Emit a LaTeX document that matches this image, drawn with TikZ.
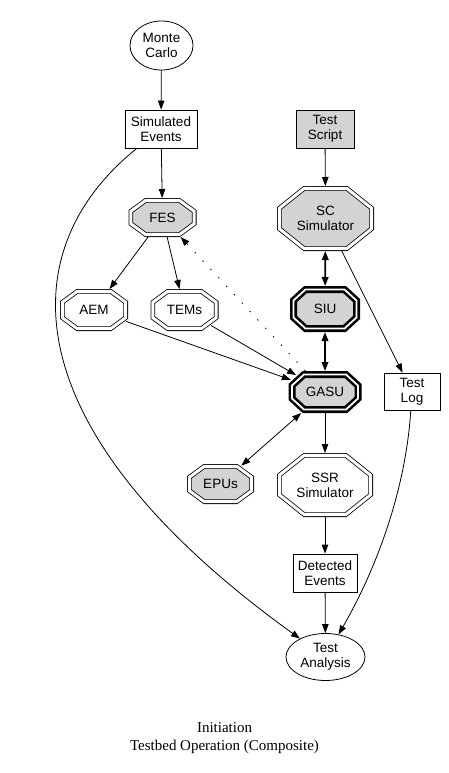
\documentclass[tikz,border=0pt]{standalone}
\usepackage{fontspec}
\setmainfont{Liberation Sans}
\newfontfamily\capfont{Liberation Serif}
\usetikzlibrary{shapes.geometric,arrows.meta}
\definecolor{lg}{HTML}{D3D3D3}
\makeatletter
\pgfkeys{/pgf/octo cx/.initial=10pt, /pgf/octo cy/.initial=8pt}
\pgfdeclareshape{octo}{%
  \savedanchor\northeast{%
    \pgfmathsetlength\pgf@x{\pgfkeysvalueof{/pgf/minimum width}}%
    \pgfmathsetlength\pgf@y{\pgfkeysvalueof{/pgf/minimum height}}%
    \pgf@x=.5\pgf@x \pgf@y=.5\pgf@y
  }%
  \savedanchor\outerne{%
    \pgfmathsetlength\pgf@x{\pgfkeysvalueof{/pgf/minimum width}}%
    \pgfmathsetlength\pgf@y{\pgfkeysvalueof{/pgf/minimum height}}%
    \pgf@x=.5\pgf@x \pgf@y=.5\pgf@y
    \pgfmathsetlength\pgf@xa{\pgfkeysvalueof{/pgf/outer xsep}}%
    \pgfmathsetlength\pgf@ya{\pgfkeysvalueof{/pgf/outer ysep}}%
    \advance\pgf@x by \pgf@xa \advance\pgf@y by \pgf@ya
  }%
  \savedanchor\chamf{%
    \pgfmathsetlength\pgf@x{\pgfkeysvalueof{/pgf/octo cx}}%
    \pgfmathsetlength\pgf@y{\pgfkeysvalueof{/pgf/octo cy}}%
  }%
  \savedanchor\textorig{%
    \pgf@x=-.5\wd\pgfnodeparttextbox
    \pgf@y=-.5\ht\pgfnodeparttextbox
    \advance\pgf@y by .5\dp\pgfnodeparttextbox
  }%
  \anchor{center}{\pgfpointorigin}%
  \anchor{text}{\textorig}%
  \backgroundpath{%
    \northeast \edef\octW{\the\pgf@x}\edef\octH{\the\pgf@y}%
    \chamf \pgf@xa=\octW \advance\pgf@xa by -\pgf@x
    \pgf@ya=\octH \advance\pgf@ya by -\pgf@y
    \edef\octw{\the\pgf@xa}\edef\octh{\the\pgf@ya}%
    \pgfpathmoveto{\pgfqpoint{\octW}{\octh}}%
    \pgfpathlineto{\pgfqpoint{\octw}{\octH}}%
    \pgfpathlineto{\pgfqpoint{-\octw}{\octH}}%
    \pgfpathlineto{\pgfqpoint{-\octW}{\octh}}%
    \pgfpathlineto{\pgfqpoint{-\octW}{-\octh}}%
    \pgfpathlineto{\pgfqpoint{-\octw}{-\octH}}%
    \pgfpathlineto{\pgfqpoint{\octw}{-\octH}}%
    \pgfpathlineto{\pgfqpoint{\octW}{-\octh}}%
    \pgfpathclose
  }%
  \anchorborder{%
    \edef\octdx{\pgf@sys@tonumber\pgf@x}\edef\octdy{\pgf@sys@tonumber\pgf@y}%
    \outerne \edef\octOW{\pgf@sys@tonumber\pgf@x}\edef\octOH{\pgf@sys@tonumber\pgf@y}%
    \chamf \edef\octcx{\pgf@sys@tonumber\pgf@x}\edef\octcy{\pgf@sys@tonumber\pgf@y}%
    \pgfmathsetmacro\octlen{max(veclen(\octdx,\octdy),0.0001)}%
    \pgfmathsetmacro\octux{\octdx/\octlen}%
    \pgfmathsetmacro\octuy{\octdy/\octlen}%
    \pgfmathsetmacro\octt{min(\octOW/max(abs(\octux),0.01),\octOH/max(abs(\octuy),0.01),(\octcy*\octOW+\octcx*(\octOH-\octcy))/(\octcy*abs(\octux)+\octcx*abs(\octuy)))}%
    \pgfmathsetlength\pgf@xa{\octt*\octux}%
    \pgfmathsetlength\pgf@ya{\octt*\octuy}%
    \pgf@x=\pgf@xa \pgf@y=\pgf@ya
  }%
}
\makeatother
\begin{document}
\begin{tikzpicture}[x=1pt,y=-1pt,
  every node/.style={font=\fontsize{13.5}{15}\selectfont, align=center, inner sep=0pt},
  box/.style={rectangle, draw, line width=0.8pt},
  ell/.style={ellipse, draw, line width=0.8pt},
  oct/.style={octo, draw, double, line width=0.8pt, double distance=3pt, outer sep=2.3pt,
    octo cx=15pt, octo cy=11pt},
  bigoct/.style={oct, octo cx=25pt, octo cy=20pt},
  toct/.style={octo, draw, double, line width=2.6pt, double distance=1.8pt, outer sep=3.5pt, fill=lg,
    octo cx=12pt, octo cy=11pt},
  tip/.tip={Triangle[length=9pt,width=6.5pt]},
  arr/.style={-tip, line width=0.8pt},
  barr/.style={tip-tip, line width=1.8pt},
]
\useasboundingbox (0,0) rectangle (448,773);
% nodes
\node[ell, minimum width=63pt, minimum height=49pt] (mc) at (161.5,45.5) {Monte\\Carlo};
\node[box, minimum width=72pt, minimum height=38pt] (simev) at (161,129) {Simulated\\Events};
\node[box, fill=lg, minimum width=58pt, minimum height=38pt] (tscript) at (325,129) {Test\\Script};
\node[oct, fill=lg, minimum width=63.4pt, minimum height=34.4pt] (fes) at (162.5,217.5) {FES};
\node[bigoct, fill=lg, minimum width=92.4pt, minimum height=60.4pt] (sc) at (325.5,218.5) {SC\\Simulator};
\node[oct, minimum width=63.4pt, minimum height=37.4pt] (aem) at (94,310) {AEM};
\node[oct, minimum width=63.4pt, minimum height=37.4pt] (tems) at (184.5,310) {TEMs};
\node[toct, minimum width=63pt, minimum height=39pt] (siu) at (325,309) {SIU};
\node[toct, minimum width=66pt, minimum height=35pt] (gasu) at (325,392) {GASU};
\node[box, minimum width=56pt, minimum height=37pt] (tlog) at (412,391.5) {Test\\Log};
\node[oct, fill=lg, minimum width=62.4pt, minimum height=35.4pt] (epus) at (220.5,484) {EPUs};
\node[bigoct, minimum width=91.4pt, minimum height=59.4pt] (ssr) at (325,485) {SSR\\Simulator};
\node[box, minimum width=64pt, minimum height=38pt] (detev) at (325,573) {Detected\\Events};
\node[ell, minimum width=79pt, minimum height=47pt] (tan) at (325.5,657) {Test\\Analysis};
\node[font=\capfont\fontsize{15}{18}\selectfont] (cap) at (224.5,738) {Initiation\\Testbed Operation (Composite)};
% edges
\draw[arr] (mc) -- (simev);
\draw[arr] (simev) -- (fes);
\draw[arr] (simev) .. controls (10,250) and (10,430) .. (tan);
\draw[arr] (tscript) -- (sc);
\draw[barr] (sc) -- (siu);
\draw[barr] (siu) -- (gasu);
\draw[arr] (sc) -- (tlog);
\draw[arr] (fes) -- (aem);
\draw[arr] (fes) -- (tems);
\draw[arr] (aem) -- (gasu);
\draw[arr] (tems) -- (gasu);
\draw[arr, dash pattern=on 1.5pt off 10pt] (gasu) -- (fes);
\draw[arr, tip-tip] (gasu) -- (epus);
\draw[arr] (gasu) -- (ssr);
\draw[arr] (ssr) -- (detev);
\draw[arr] (detev) -- (tan);
\draw[arr] (tlog) .. controls (405,500) and (370,580) .. (tan);
\end{tikzpicture}
\end{document}
